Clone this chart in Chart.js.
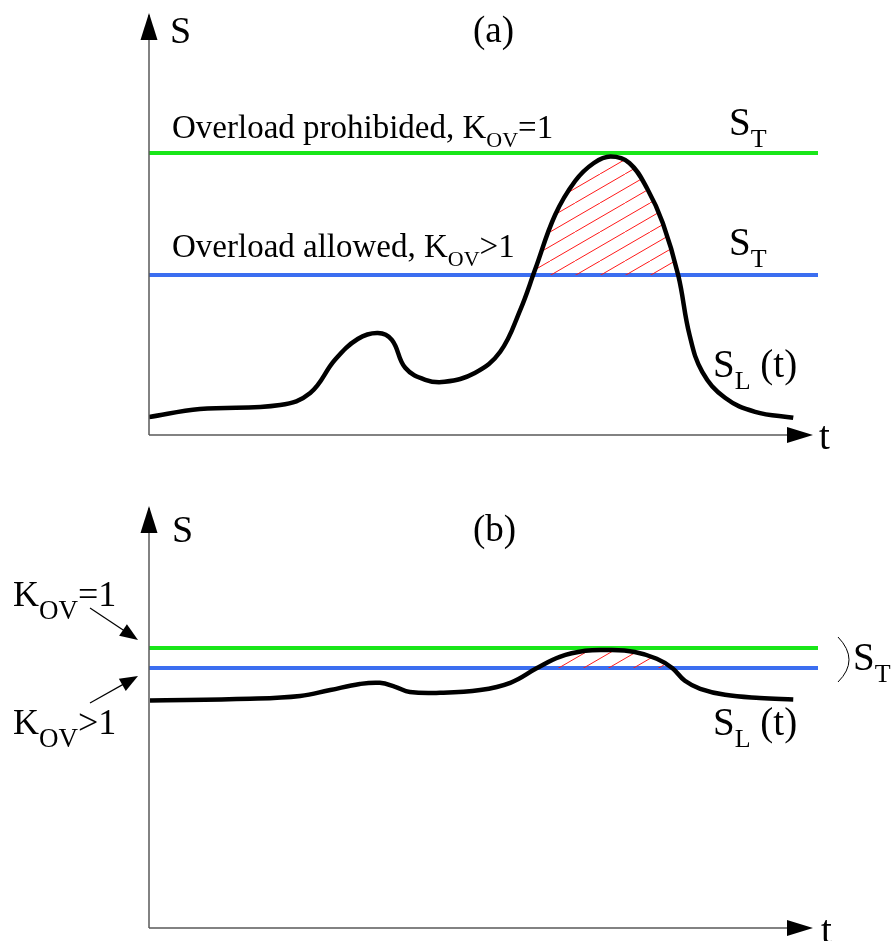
<!DOCTYPE html>
<html>
<head>
<meta charset="utf-8">
<script src="https://cdn.jsdelivr.net/npm/chart.js@4.4.1/dist/chart.umd.min.js"></script>
<style>
    body { margin: 0; background: #fff; }
    #wrap { position: relative; width: 893px; height: 941px; }
    canvas { position: absolute; left: 0; }
    #chartA { top: 0; }
    #chartB { top: 470px; }
</style>
</head>
<body>
<div id="wrap">
    <canvas id="chartA" width="893" height="470"></canvas>
    <canvas id="chartB" width="893" height="471"></canvas>
</div>
<script>
// Panel (a): load curve S_L(t), time in % of the axis, S in % of the axis
const tA = [0, 7.6, 19.6, 24.1, 27.8, 31.2, 34.2, 36.3, 38.3, 41.3, 44.2, 48.7, 52.5, 55.5, 57.7, 60.7, 63.7, 66.5, 69, 71.8, 74.5, 76.8, 79.1, 80.8, 82.7, 86.1, 90.6, 96.3];
const loadA = [4.5, 6.5, 7.5, 10.5, 18.8, 24, 25.5, 23.8, 16.8, 13.8, 13.3, 15.5, 20.8, 31.3, 41.3, 55, 63.5, 68, 69.6, 68, 61.5, 53, 40, 25, 15.8, 9.3, 5.8, 4.3];
// S_T levels: [K_OV=1, K_OV>1]
const stA = [70.5, 40];

// Panel (b)
const tB = [0.15, 15.1, 22.6, 27.1, 31.5, 34.5, 36.8, 39, 43.5, 49.5, 54, 58, 61.4, 65.2, 68.5, 72.6, 75.9, 78.2, 80.1, 82.4, 86.1, 91.3, 96.3];
const loadB = [56.9, 57.3, 58, 59.5, 61, 61.3, 60.3, 59, 58.8, 59.5, 61.3, 65, 67.8, 69.3, 69.5, 69, 67.3, 65, 61.8, 59.8, 58.3, 57.5, 57.1];
const stB = [70, 65];

const tRange = [0, 100];

const SERIF = "'Liberation Serif', 'Times New Roman', serif";
const GREEN = '#19e619';
const BLUE = '#3b6ef0';

// Red diagonal hatch used for the overload area
function makeHatch() {
    const c = document.createElement('canvas');
    c.width = 50;
    c.height = 29;
    const g = c.getContext('2d');
    g.strokeStyle = '#ff1a1a';
    g.lineWidth = 1;
    for (let x0 = -50; x0 <= 50; x0 += 25) {
        g.beginPath();
        g.moveTo(x0, 29);
        g.lineTo(x0 + 50, 0);
        g.stroke();
    }
    return g.createPattern(c, 'repeat');
}

function toPoints(xs, ys) {
    return xs.map((x, i) => ({ x: x, y: ys[i] }));
}

function levelLine(value, color) {
    return {
        data: toPoints(tRange, [value, value]),
        borderColor: color,
        borderWidth: 4,
        pointRadius: 0,
        fill: false,
        order: 1
    };
}

// text with a subscript: parts = [[text, size, dy], ...]
function drawRich(ctx, x, y, parts) {
    parts.forEach(p => {
        ctx.font = p[1] + 'px ' + SERIF;
        ctx.fillText(p[0], x, y + (p[2] || 0));
        x += ctx.measureText(p[0]).width;
    });
}

function arrowHead(ctx, tipX, tipY, dir, len, half) {
    // dir: 'up' or 'right'
    ctx.beginPath();
    if (dir === 'up') {
        ctx.moveTo(tipX, tipY);
        ctx.lineTo(tipX - half, tipY + len);
        ctx.lineTo(tipX + half, tipY + len);
    } else {
        ctx.moveTo(tipX, tipY);
        ctx.lineTo(tipX - len, tipY - half);
        ctx.lineTo(tipX - len, tipY + half);
    }
    ctx.closePath();
    ctx.fill();
}

function slimArrow(ctx, x1, y1, x2, y2) {
    const a = Math.atan2(y2 - y1, x2 - x1);
    ctx.lineWidth = 1.2;
    ctx.beginPath();
    ctx.moveTo(x1, y1);
    ctx.lineTo(x2 - 12 * Math.cos(a), y2 - 12 * Math.sin(a));
    ctx.stroke();
    ctx.beginPath();
    ctx.moveTo(x2, y2);
    ctx.lineTo(x2 - 18 * Math.cos(a) + 7 * Math.sin(a), y2 - 18 * Math.sin(a) - 7 * Math.cos(a));
    ctx.lineTo(x2 - 18 * Math.cos(a) - 7 * Math.sin(a), y2 - 18 * Math.sin(a) + 7 * Math.cos(a));
    ctx.closePath();
    ctx.fill();
}

// axes with arrows, drawn from the chart area
const axesPlugin = {
    id: 'axesArrows',
    afterDraw(chart) {
        const ctx = chart.ctx;
        const a = chart.chartArea;
        ctx.save();
        ctx.strokeStyle = '#5a5a5a';
        ctx.fillStyle = '#000';
        ctx.lineWidth = 1.5;
        ctx.beginPath();
        ctx.moveTo(a.left, a.bottom);
        ctx.lineTo(a.left, a.top - 20);
        ctx.moveTo(a.left, a.bottom);
        ctx.lineTo(a.right - 10, a.bottom);
        ctx.stroke();
        arrowHead(ctx, a.left, a.top - 22, 'up', 27, 8.5);
        arrowHead(ctx, a.right - 5, a.bottom, 'right', 26, 8);
        ctx.restore();
    }
};

function labelsA(chart) {
    const ctx = chart.ctx;
    ctx.save();
    ctx.fillStyle = '#000';
    drawRich(ctx, 170, 43, [['S', 38]]);
    drawRich(ctx, 473, 42, [['(a)', 37]]);
    drawRich(ctx, 172, 138, [['Overload prohibided, K', 33], ['OV', 22, 9], ['=1', 33]]);
    drawRich(ctx, 172, 257, [['Overload allowed, K', 33], ['OV', 22, 9], ['>1', 33]]);
    drawRich(ctx, 729, 135, [['S', 39], ['T', 26, 12]]);
    drawRich(ctx, 729, 255, [['S', 39], ['T', 26, 12]]);
    drawRich(ctx, 713, 377, [['S', 39], ['L', 26, 12], [' (t)', 39]]);
    drawRich(ctx, 819, 449, [['t', 39]]);
    ctx.restore();
}

function labelsB(chart) {
    const ctx = chart.ctx;
    ctx.save();
    ctx.fillStyle = '#000';
    ctx.strokeStyle = '#000';
    drawRich(ctx, 172, 72, [['S', 38]]);
    drawRich(ctx, 473, 71, [['(b)', 37]]);
    drawRich(ctx, 13, 136, [['K', 36], ['OV', 27, 13], ['=1', 36]]);
    drawRich(ctx, 13, 264, [['K', 36], ['OV', 27, 13], ['>1', 36]]);
    slimArrow(ctx, 90, 138, 138, 170);
    slimArrow(ctx, 90, 233, 138, 206);
    drawRich(ctx, 713, 265, [['S', 39], ['L', 26, 12], [' (t)', 39]]);
    // brace joining both S_T levels
    ctx.lineWidth = 1;
    ctx.beginPath();
    ctx.moveTo(838, 167);
    ctx.quadraticCurveTo(860, 190, 838, 212);
    ctx.stroke();
    drawRich(ctx, 853, 200, [['S', 39], ['T', 26, 12]]);
    drawRich(ctx, 821, 473, [['t', 39]]);
    ctx.restore();
}

function baseOptions(padding, labelFn) {
    return {
        responsive: false,
        animation: false,
        layout: { padding: padding },
        plugins: {
            legend: { display: false },
            tooltip: { enabled: false },
            labelsDraw: { fn: labelFn }
        },
        scales: {
            x: { type: 'linear', min: tRange[0], max: tRange[1], display: false },
            y: { min: 0, max: 100, display: false }
        }
    };
}

const labelsPlugin = {
    id: 'labelsDraw',
    afterDraw(chart, args, opts) {
        if (opts.fn) opts.fn(chart);
    }
};

function loadDataset(xs, ys, cut) {
    return {
        data: toPoints(xs, ys),
        borderColor: '#000',
        borderWidth: 4.5,
        pointRadius: 0,
        tension: 0.4,
        fill: { target: { value: cut }, above: makeHatch(), below: 'rgba(0,0,0,0)' },
        order: 0
    };
}

function initChartA() {
    new Chart(document.getElementById('chartA'), {
        type: 'line',
        data: {
            datasets: [
                loadDataset(tA, loadA, stA[1]),
                levelLine(stA[0], GREEN),
                levelLine(stA[1], BLUE)
            ]
        },
        options: baseOptions({ left: 149, right: 75, top: 35, bottom: 35 }, labelsA),
        plugins: [axesPlugin, labelsPlugin]
    });
}

function initChartB() {
    new Chart(document.getElementById('chartB'), {
        type: 'line',
        data: {
            datasets: [
                loadDataset(tB, loadB, stB[1]),
                levelLine(stB[0], GREEN),
                levelLine(stB[1], BLUE)
            ]
        },
        options: baseOptions({ left: 149, right: 75, top: 58, bottom: 13 }, labelsB),
        plugins: [axesPlugin, labelsPlugin]
    });
}

initChartA();
initChartB();
</script>
</body>
</html>
